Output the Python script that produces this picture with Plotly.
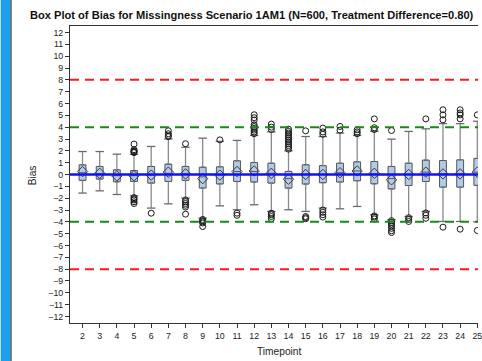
import plotly.graph_objects as go

# ---- data ----
timepoints = list(range(2, 26))
q1 =     [-0.50, -0.39, -0.62, -0.59, -0.73, -0.59, -0.50, -1.15, -0.80, -0.59, -0.64, -0.73,
          -1.15, -0.81, -0.70, -0.64, -0.53, -0.79, -1.22, -0.93, -0.59, -1.07, -1.07, -0.92]
median = [0.15, 0.05, -0.10, -0.10, -0.05, 0.10, 0.05, -0.20, -0.05, 0.25, 0.25, 0.10,
          -0.35, 0.00, 0.00, 0.15, 0.30, 0.05, -0.35, 0.00, 0.20, 0.05, 0.05, 0.20]
q3 =     [0.82, 0.68, 0.40, 0.34, 0.68, 0.88, 0.68, 0.62, 0.65, 1.16, 1.01, 0.96,
          0.26, 0.82, 0.75, 0.96, 1.07, 1.10, 0.68, 0.96, 1.22, 1.18, 1.24, 1.36]
means =  [0.25, 0.10, -0.12, -0.10, -0.05, 0.20, 0.05, -0.35, -0.05, 0.25, 0.30, 0.10,
          -0.40, 0.00, 0.00, 0.15, 0.30, 0.10, -0.45, 0.00, 0.20, 0.05, 0.05, 0.20]
whisk_lo = [-1.57, -1.38, -1.69, -1.80, -2.84, -2.48, -2.00, -3.69, -2.65, -2.98, -2.56, -3.12,
            -2.98, -3.12, -2.84, -2.90, -2.70, -3.40, -3.83, -3.55, -3.12, -3.97, -3.97, -4.00]
whisk_hi = [1.94, 1.94, 1.72, 1.70, 2.37, 3.00, 2.30, 3.07, 2.80, 2.88, 3.30, 3.60,
            2.00, 3.21, 3.21, 3.50, 3.30, 3.65, 2.99, 3.64, 3.86, 4.30, 4.30, 4.50]

out_x = ([5]*11 + [6] + [7]*4 + [8]*7 + [9]*5 + [10] + [11]*2 + [12]*9 + [13]*7 +
         [14]*12 + [15]*4 + [16]*7 + [17]*2 + [18]*3 + [19]*6 + [20]*8 + [21]*3 +
         [22]*4 + [23]*4 + [24]*5 + [25]*2)
out_y = ([2.57, 2.10, 2.00, 1.95, 1.90, 1.85, -1.95, -2.05, -2.15, -2.30, -2.45] +
         [-3.27] +
         [3.20, 3.30, 3.45, 3.70] +
         [2.60, -2.15, -2.30, -2.45, -2.60, -2.75, -3.35] +
         [-3.80, -3.90, -4.00, -4.10, -4.40] +
         [2.93] +
         [-3.27, -3.45] +
         [3.45, 3.60, 3.75, 3.90, 4.05, 4.20, 4.60, 4.80, 5.05] +
         [3.80, 4.00, 4.26, -3.27, -3.40, -3.55, -3.74] +
         [2.14, 2.30, 2.45, 2.60, 2.75, 2.90, 3.05, 3.20, 3.35, 3.50, 3.65, 3.83] +
         [3.69, -3.55, -3.65, -3.74] +
         [3.40, 3.60, 3.92, -3.00, -3.20, -3.40, -3.60] +
         [3.75, 4.06] +
         [3.45, 3.60, 3.78] +
         [3.80, 3.95, 4.70, -3.50, -3.60, -3.75] +
         [3.72, -3.90, -4.05, -4.20, -4.35, -4.55, -4.75, -4.90] +
         [-3.65, -3.80, -3.97] +
         [4.70, -3.25, -3.45, -3.70] +
         [4.62, 5.04, 5.47, -4.45] +
         [4.70, 5.04, 5.20, 5.47, -4.62] +
         [5.04, -4.73])

ref_outer = [8, -8]
ref_inner = [4, -4]
ref_zero = 0

title = "Box Plot of Bias for Missingness Scenario 1AM1 (N=600, Treatment Difference=0.80)"

W, H = 482, 361
ML, MR, MT, MB = 70, 0, 26, 38
PW, PH = W - ML - MR, H - MT - MB
def px(p):
    return (p - ML) / PW
def py(p):
    return (H - MB - p) / PH

FONT = "Liberation Sans, Arial, sans-serif"

fig = go.Figure()

# whiskers
wx, wy = [], []
for t, a, b, lo, hi in zip(timepoints, q1, q3, whisk_lo, whisk_hi):
    wx += [t, t, None, t, t, None]
    wy += [hi, b, None, a, lo, None]
fig.add_trace(go.Scatter(x=wx, y=wy, mode="lines", line=dict(color="#8a8a8a", width=1.3),
                         hoverinfo="skip", showlegend=False))
fig.add_trace(go.Scatter(x=timepoints + timepoints, y=whisk_lo + whisk_hi, mode="markers",
                         marker=dict(symbol="line-ew", size=6, line=dict(color="#6a6a6a", width=1.3)),
                         hoverinfo="skip", showlegend=False))

fig.add_trace(go.Box(x=timepoints, q1=q1, median=median, q3=q3, lowerfence=q1, upperfence=q3,
                     width=0.4, fillcolor="#B3CBE7", line=dict(color="#555555", width=1),
                     showlegend=False, boxpoints=False))

fig.add_trace(go.Scatter(x=out_x, y=out_y, mode="markers",
                         marker=dict(symbol="circle-open", size=6, color="#1a1a1a", line=dict(width=1)),
                         showlegend=False))
fig.add_trace(go.Scatter(x=timepoints, y=means, mode="markers",
                         marker=dict(symbol="diamond-open", size=8, color="#3a3a3a", line=dict(width=1)),
                         showlegend=False))

shapes = []
for v in ref_outer:
    shapes.append(dict(type="line", xref="paper", yref="y", x0=0, x1=1, y0=v, y1=v,
                       line=dict(color="#FF1A1A", width=2, dash="9px,6px"), layer="above"))
for v in ref_inner:
    shapes.append(dict(type="line", xref="paper", yref="y", x0=0, x1=1, y0=v, y1=v,
                       line=dict(color="#168A16", width=2, dash="9px,6px"), layer="above"))
shapes.append(dict(type="line", xref="paper", yref="y", x0=0, x1=1, y0=ref_zero, y1=ref_zero,
                   line=dict(color="#1010FF", width=2.5), layer="above"))
# left blue frame strip
shapes.append(dict(type="rect", xref="paper", yref="paper", x0=px(0), x1=px(10), y0=py(H), y1=py(0),
                   fillcolor="#1E9EEC", line=dict(width=0), layer="above"))
shapes.append(dict(type="line", xref="paper", yref="paper", x0=px(10.5), x1=px(10.5), y0=py(H), y1=py(0),
                   line=dict(color="#222222", width=1), layer="above"))

fig.update_layout(
    width=W, height=H, margin=dict(l=ML, r=MR, t=MT, b=MB),
    paper_bgcolor="white", plot_bgcolor="white",
    font=dict(family=FONT, size=10, color="#222"),
    title=dict(text="<b>" + title + "</b>", x=30 / W, xanchor="left", xref="container",
               y=1 - 15 / H, yanchor="middle", yref="container",
               font=dict(family=FONT, size=11.1, color="#111")),
    shapes=shapes,
    xaxis=dict(range=[1.27, 25.04], tickmode="array", tickvals=timepoints,
               ticktext=[str(t) for t in timepoints], ticks="outside", ticklen=4,
               tickcolor="#333", showline=True, linecolor="#333", mirror=True,
               showgrid=False, zeroline=False, tickfont=dict(size=8.8),
               ticklabeloverflow="allow"),
    yaxis=dict(range=[-12.55, 12.55], tickmode="array", tickvals=list(range(-12, 13)),
               ticks="outside", ticklen=4, tickcolor="#333", showline=True, linecolor="#333",
               showgrid=False, zeroline=False, tickfont=dict(size=8.8)),
    annotations=[
        dict(text="Bias", xref="paper", yref="paper", x=px(32), y=py(175), textangle=-90,
             showarrow=False, xanchor="center", yanchor="middle", font=dict(size=10.2)),
        dict(text="Timepoint", xref="paper", yref="paper", x=px(282), y=py(351),
             showarrow=False, xanchor="center", yanchor="middle", font=dict(size=10.2)),
    ],
)

fig.write_html("out.html")
